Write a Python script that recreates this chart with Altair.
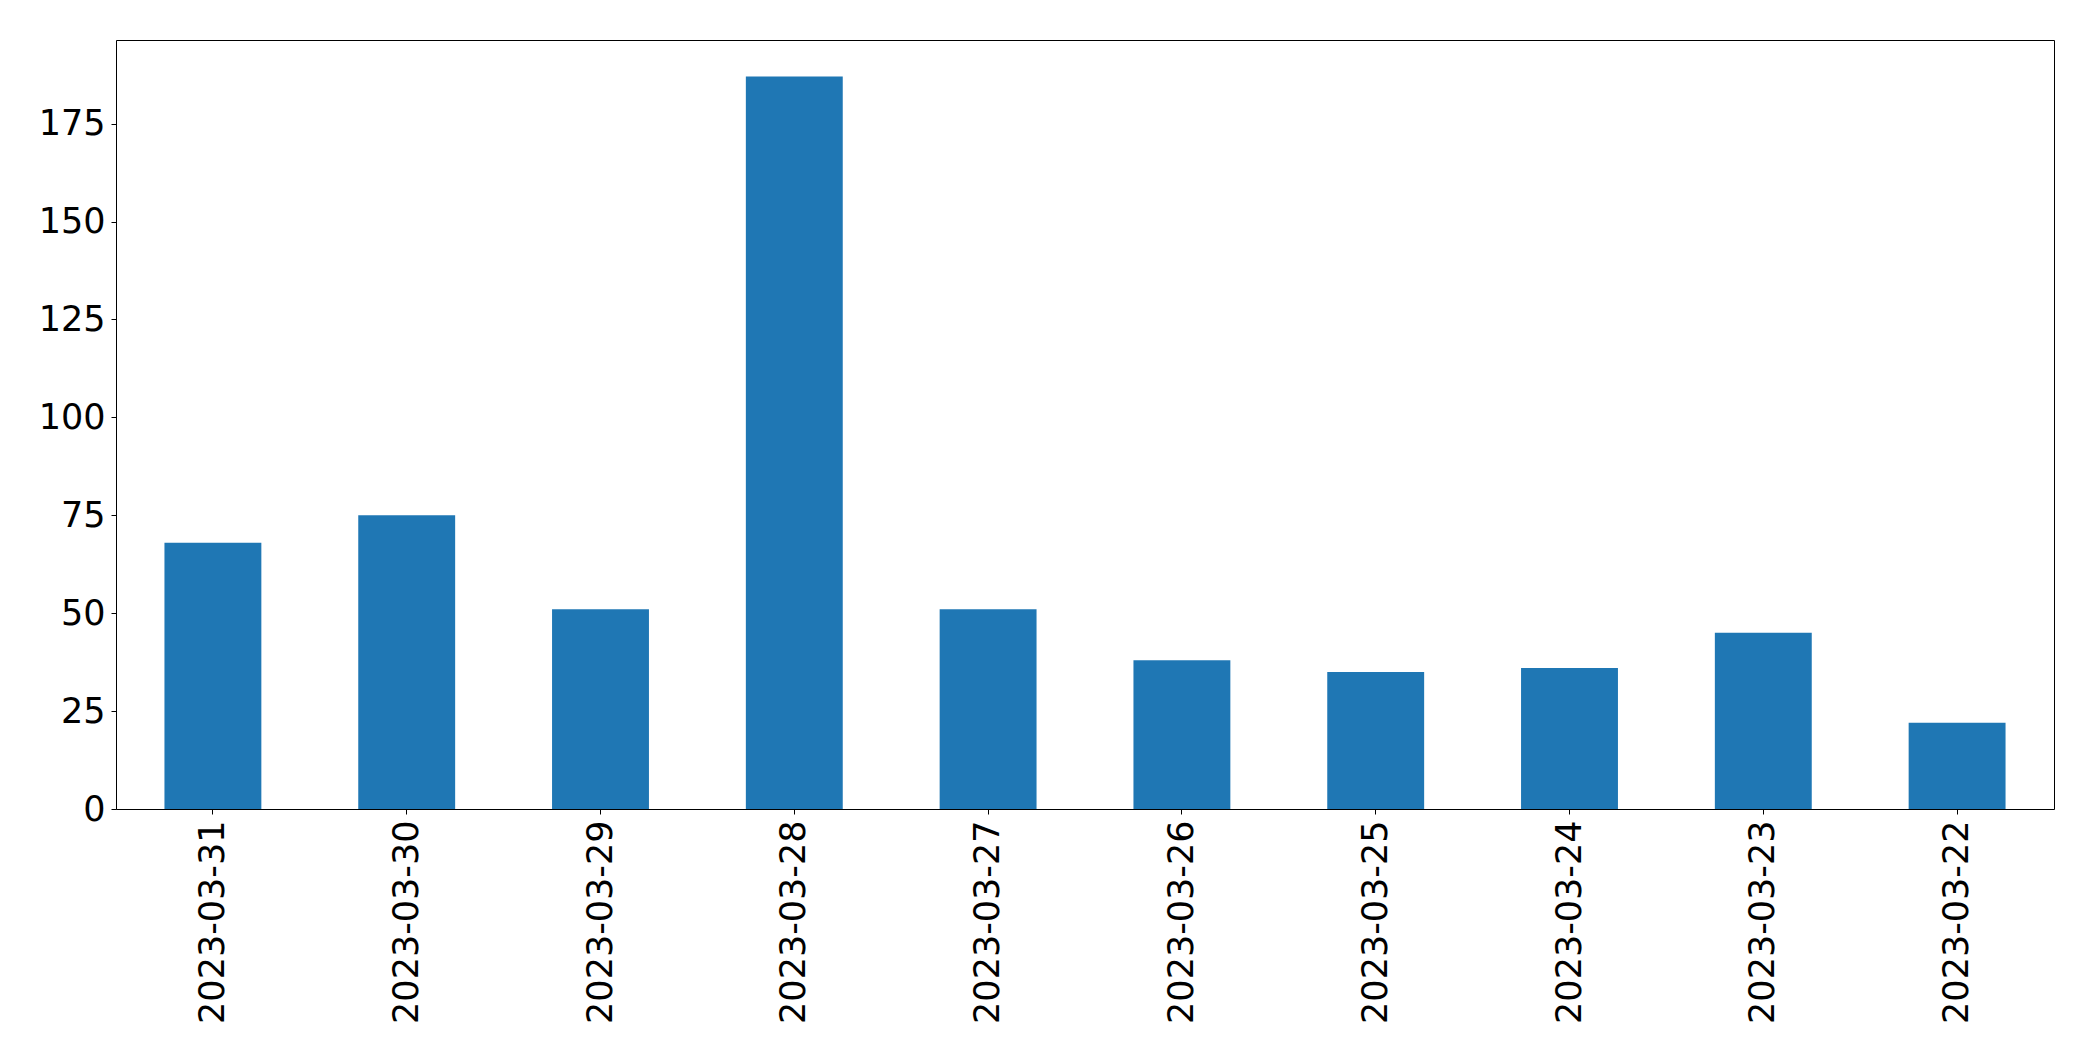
import altair as alt
import pandas as pd

dates = ["2023-03-31", "2023-03-30", "2023-03-29", "2023-03-28", "2023-03-27",
         "2023-03-26", "2023-03-25", "2023-03-24", "2023-03-23", "2023-03-22"]
counts = [68, 75, 51, 187, 51, 38, 35, 36, 45, 22]
y_ticks = [0, 25, 50, 75, 100, 125, 150, 175]

df = pd.DataFrame({"date": dates, "count": counts})

FONT = "DejaVu Sans"
x_scale = alt.Scale(paddingInner=0.5, paddingOuter=0.25)
y_scale = alt.Scale(domain=[0, 196.35], nice=False, zero=True)

bars = alt.Chart(df).mark_bar(color="#1f77b4").encode(
    x=alt.X("date:N", sort=None, title=None, scale=x_scale,
            axis=alt.Axis(labelAngle=270, labelFontSize=35, labelFont=FONT,
                          labelColor="black", tickColor="black", domainColor="black",
                          tickSize=5, labelPadding=6, grid=False, labelLimit=0)),
    y=alt.Y("count:Q", title=None, scale=y_scale,
            axis=alt.Axis(values=y_ticks, labelFontSize=35, labelFont=FONT,
                          labelColor="black", tickColor="black", domainColor="black",
                          tickSize=5, labelPadding=6, grid=False)),
)

frame = alt.Chart(df).mark_bar(opacity=0).encode(
    x=alt.X("date:N", sort=None, title=None, scale=x_scale,
            axis=alt.Axis(orient="top", labels=False, ticks=False,
                          domainColor="black", grid=False)),
    y=alt.Y("count:Q", title=None, scale=y_scale,
            axis=alt.Axis(orient="right", labels=False, ticks=False,
                          domainColor="black", grid=False)),
)

chart = alt.layer(bars, frame).resolve_axis(
    x="independent", y="independent"
).properties(
    width=1938,
    height=769,
    autosize=alt.AutoSizeParams(type="none"),
    padding={"left": 108, "top": 32, "right": 30, "bottom": 240},
).configure_view(
    stroke=None
).configure(background="white")

chart.save("out.html", embed_options={"renderer": "svg", "actions": False})
